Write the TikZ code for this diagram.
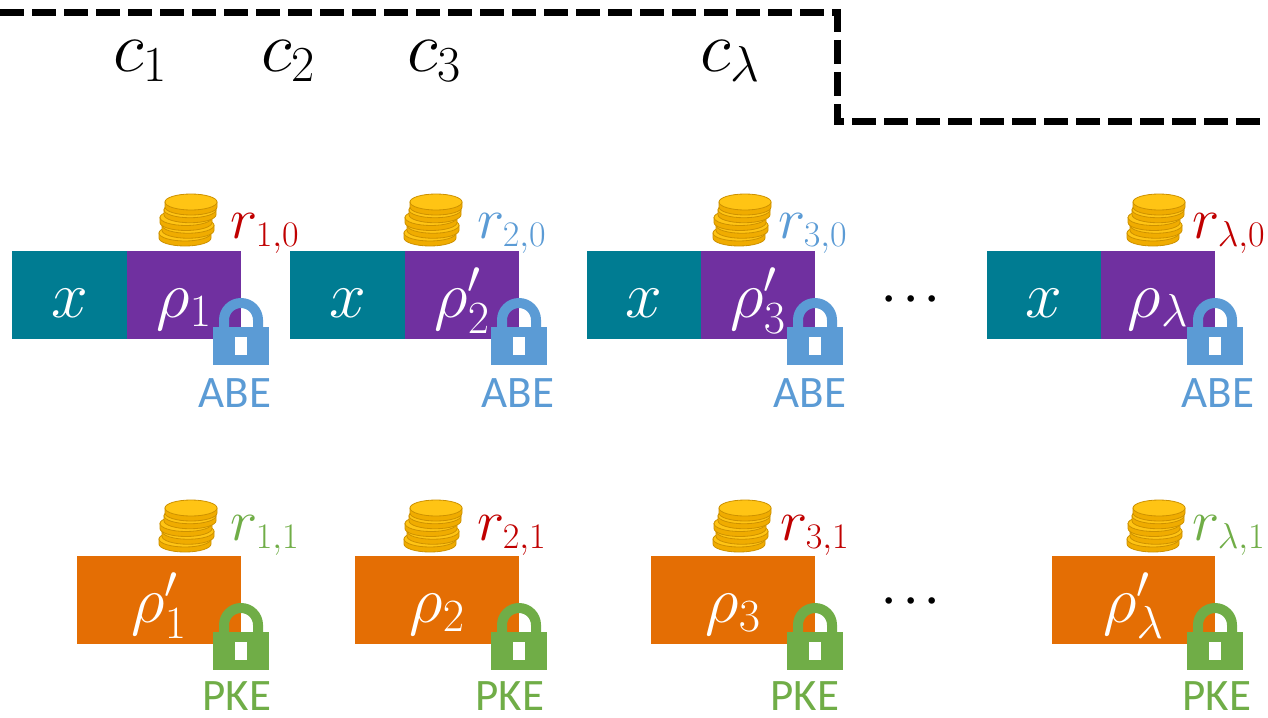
\RequirePackage{fix-cm}
\documentclass[tikz,border=0pt]{standalone}
\usepackage{fontspec}
\newfontfamily\tagfont{Carlito}
\DeclareMathSizes{58}{58}{36}{28}
\definecolor{tealbox}{RGB}{0,124,146}
\definecolor{purplebox}{RGB}{112,48,160}
\definecolor{orangebox}{RGB}{228,110,4}
\definecolor{abeblue}{RGB}{91,155,213}
\definecolor{pkegreen}{RGB}{112,173,71}
\definecolor{rred}{RGB}{192,0,0}
\definecolor{coinface}{RGB}{255,196,20}
\definecolor{coinside}{RGB}{240,172,0}
\definecolor{coinedge}{RGB}{205,145,0}
\begin{document}
\begin{tikzpicture}[x=1pt,y=-1pt,
  cell/.style={draw=none,inner sep=0,outer sep=0,minimum height=88pt,anchor=north west},
  inmath/.style={font=\fontsize{66}{80}\selectfont,text=white,inner sep=0,anchor=base},
  toplbl/.style={font=\fontsize{72}{86}\selectfont,inner sep=0,anchor=base west},
  rlbl/.style={font=\fontsize{58}{70}\selectfont,inner sep=0,anchor=base west},
  tag/.style={font=\tagfont\fontsize{45}{54}\selectfont,inner sep=0,anchor=base,text depth=0pt},
  dotsl/.style={font=\fontsize{42}{50}\selectfont\boldmath,inner sep=0,anchor=base},
  lock/.pic={
    \draw[line width=10pt,#1] (-17,0) -- (-17,-7)
      arc[start angle=180,end angle=360,radius=17] -- (17,0);
    \fill[#1] (-28,0) rectangle (28,38);
    \fill[white] (-6,10) rectangle (6,28);
  },
  coins/.pic={
    \foreach \dx/\dy in {-6/31,-3/23.25,-5/15.5,-1/7.75,0/0}{
      \filldraw[fill=coinside,draw=coinedge,line width=0.8pt]
        (\dx-26,\dy) -- (\dx-26,\dy+5)
        arc[start angle=180,end angle=0,x radius=26,y radius=8]
        -- (\dx+26,\dy) -- cycle;
      \filldraw[fill=coinface,draw=coinedge,line width=0.8pt]
        (\dx,\dy) ellipse[x radius=26,y radius=8];
    }
  }]
\useasboundingbox (0,0) rectangle (1268,717);

% dashed frame line
\draw[line width=7pt,dash pattern=on 24pt off 8pt]
  (0,13) -- (837,13) -- (837,121) -- (1268,121);

% ciphertext labels
\node[toplbl] (c1) at (113,71) {$c_1$};
\node[toplbl] (c2) at (261,71) {$c_2$};
\node[toplbl] (c3) at (407,71) {$c_3$};
\node[toplbl] (cl) at (700,71) {$c_\lambda$};

% first row: x || rho, encrypted with ABE
\node[cell,fill=tealbox,minimum width=115pt] (xa) at (12,251) {};
\node[cell,fill=purplebox,minimum width=114pt] (pa) at (127,251) {};
\node[cell,fill=tealbox,minimum width=115pt] (xb) at (290,251) {};
\node[cell,fill=purplebox,minimum width=114pt] (pb) at (405,251) {};
\node[cell,fill=tealbox,minimum width=114pt] (xc) at (587,251) {};
\node[cell,fill=purplebox,minimum width=114pt] (pc) at (701,251) {};
\node[cell,fill=tealbox,minimum width=114pt] (xd) at (987,251) {};
\node[cell,fill=purplebox,minimum width=114pt] (pd) at (1101,251) {};

\node[inmath] (txa) at ([yshift=-22pt]xa.center) {$x$};
\node[inmath] (tpa) at ([yshift=-22pt]pa.center) {$\rho_1$};
\node[inmath] (txb) at ([yshift=-22pt]xb.center) {$x$};
\node[inmath] (tpb) at ([yshift=-22pt]pb.center) {$\rho'_2$};
\node[inmath] (txc) at ([yshift=-22pt]xc.center) {$x$};
\node[inmath] (tpc) at ([yshift=-22pt]pc.center) {$\rho'_3$};
\node[inmath] (txd) at ([yshift=-22pt]xd.center) {$x$};
\node[inmath] (tpd) at ([yshift=-22pt]pd.center) {$\rho_\lambda$};

\node[dotsl] (dots1) at (911,309) {$\cdots$};

% second row: rho', encrypted with PKE
\node[cell,fill=orangebox,minimum width=164pt] (oa) at (77,556) {};
\node[cell,fill=orangebox,minimum width=164pt] (ob) at (355,556) {};
\node[cell,fill=orangebox,minimum width=164pt] (oc) at (651,556) {};
\node[cell,fill=orangebox,minimum width=163pt] (od) at (1052,556) {};

\node[inmath] (toa) at ([yshift=-22pt]oa.center) {$\rho'_1$};
\node[inmath] (tob) at ([yshift=-22pt]ob.center) {$\rho_2$};
\node[inmath] (toc) at ([yshift=-22pt]oc.center) {$\rho_3$};
\node[inmath] (tod) at ([yshift=-22pt]od.center) {$\rho'_\lambda$};

\node[dotsl] (dots2) at (911,611) {$\cdots$};

% random coins
\pic at (191,202) {coins};
\pic at (436,202) {coins};
\pic at (745,202) {coins};
\pic at (1159,202) {coins};
\pic at (191,508) {coins};
\pic at (436,508) {coins};
\pic at (745,508) {coins};
\pic at (1159,508) {coins};

\node[rlbl,text=rred] (r10) at (230,238) {$r_{1,0}$};
\node[rlbl,text=abeblue] (r20) at (477,238) {$r_{2,0}$};
\node[rlbl,text=abeblue] (r30) at (778,238) {$r_{3,0}$};
\node[rlbl,text=rred] (rl0) at (1192,238) {$r_{\lambda,0}$};
\node[rlbl,text=pkegreen] (r11) at (230,540) {$r_{1,1}$};
\node[rlbl,text=rred] (r21) at (477,540) {$r_{2,1}$};
\node[rlbl,text=rred] (r31) at (780,540) {$r_{3,1}$};
\node[rlbl,text=pkegreen] (rl1) at (1192,540) {$r_{\lambda,1}$};

% locks
\pic at (pa.south east |- 0,327) {lock=abeblue};
\pic at (pb.south east |- 0,327) {lock=abeblue};
\pic at (pc.south east |- 0,327) {lock=abeblue};
\pic at (pd.south east |- 0,327) {lock=abeblue};
\pic at (oa.south east |- 0,632) {lock=pkegreen};
\pic at (ob.south east |- 0,632) {lock=pkegreen};
\pic at (oc.south east |- 0,632) {lock=pkegreen};
\pic at (od.south east |- 0,632) {lock=pkegreen};

\node[tag,text=abeblue] (abea) at (235,407) {ABE};
\node[tag,text=abeblue] (abeb) at (518,407) {ABE};
\node[tag,text=abeblue] (abec) at (810,407) {ABE};
\node[tag,text=abeblue] (abed) at (1218,407) {ABE};
\node[tag,text=pkegreen] (pkea) at (237,710) {PKE};
\node[tag,text=pkegreen] (pkeb) at (510,710) {PKE};
\node[tag,text=pkegreen] (pkec) at (805,710) {PKE};
\node[tag,text=pkegreen] (pked) at (1217,710) {PKE};
\end{tikzpicture}
\end{document}
